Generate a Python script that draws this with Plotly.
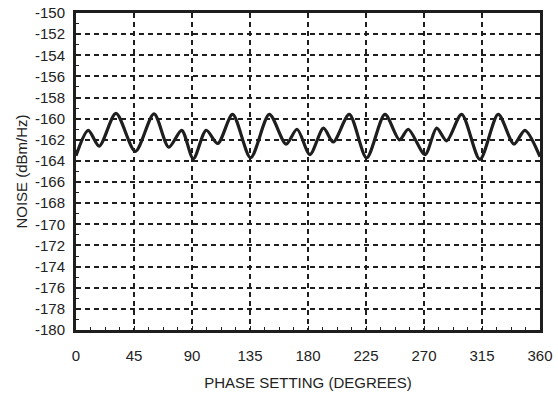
import plotly.graph_objects as go

phase_deg = [0, 9.5, 18, 31, 46, 60.5, 72, 82, 91, 101, 110, 121.5, 135.5, 150, 163, 171.5,
             181.5, 192, 199.6, 212, 225.5, 239.7, 251, 257.8, 270.8, 279.8, 287.6, 299.2,
             313.4, 327.6, 339.8, 348.3, 360]
noise_dbm_hz = [-163.5, -161.1, -162.6, -159.5, -163.1, -159.55, -162.7, -161.1, -163.8, -161.1,
                -162.35, -159.6, -163.7, -159.6, -162.4, -161.0, -163.4, -160.9, -162.2, -159.6,
                -163.7, -159.6, -162.0, -161.0, -163.4, -160.9, -162.1, -159.6, -163.85, -159.6,
                -162.4, -161.1, -163.6]

x_ticks = [0, 45, 90, 135, 180, 225, 270, 315, 360]
y_ticks = list(range(-180, -149, 2))

fig = go.Figure()
fig.add_trace(go.Scatter(x=phase_deg, y=noise_dbm_hz, mode="lines",
                         line=dict(color="#1e1e1e", width=3.2, shape="spline", smoothing=0.8),
                         showlegend=False))

font = dict(family="Liberation Sans, Arial, sans-serif", size=15, color="#222222")
fig.update_layout(
    width=558, height=396,
    margin=dict(l=76, r=18, t=13, b=66),
    paper_bgcolor="white", plot_bgcolor="white",
    font=font,
)
fig.update_xaxes(
    range=[0, 360], tickvals=x_ticks, ticktext=[str(v) for v in x_ticks],
    showgrid=True, gridcolor="#1e1e1e", gridwidth=1.6, griddash="5px,4px",
    showline=True, linecolor="#1e1e1e", linewidth=3, mirror=True,
    ticks="inside", ticklen=4, tickcolor="#1e1e1e",
    minor=dict(dtick=11.25, tick0=0, ticks="inside", ticklen=3, tickcolor="#1e1e1e", showgrid=False),
    ticklabelstandoff=10, zeroline=False, automargin=False,
    title=dict(text="PHASE SETTING (DEGREES)", standoff=15, font=font),
)
fig.update_yaxes(
    range=[-180, -150], tickvals=y_ticks, ticktext=[str(v) for v in y_ticks],
    showgrid=True, gridcolor="#1e1e1e", gridwidth=1.6, griddash="5px,4px",
    showline=True, linecolor="#1e1e1e", linewidth=3, mirror=True,
    ticks="inside", ticklen=4, tickcolor="#1e1e1e",
    minor=dict(dtick=1, tick0=-180, ticks="inside", ticklen=3, tickcolor="#1e1e1e", showgrid=False),
    ticklabelstandoff=5, zeroline=False, automargin=False,
    title=dict(text="NOISE (dBm/Hz)", standoff=4, font=font),
)
fig.write_html("out.html")
